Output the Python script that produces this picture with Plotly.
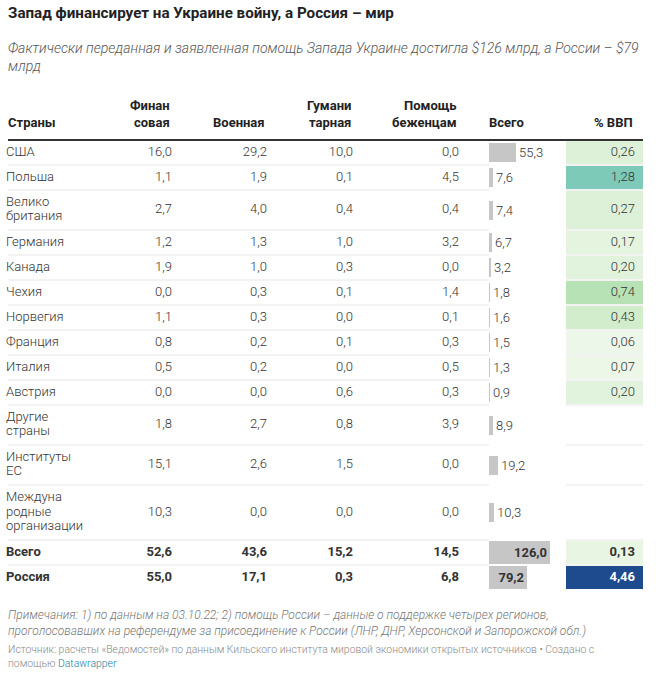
import plotly.graph_objects as go

# Данные таблицы
countries = ["США", "Польша", "Велико\nбритания", "Германия", "Канада", "Чехия",
             "Норвегия", "Франция", "Италия", "Австрия", "Другие\nстраны",
             "Институты\nЕС", "Междуна\nродные\nорганизации", "Всего", "Россия"]
fin = [16.0, 1.1, 2.7, 1.2, 1.9, 0.0, 1.1, 0.8, 0.5, 0.0, 1.8, 15.1, 10.3, 52.6, 55.0]
mil = [29.2, 1.9, 4.0, 1.3, 1.0, 0.3, 0.3, 0.2, 0.2, 0.0, 2.7, 2.6, 0.0, 43.6, 17.1]
hum = [10.0, 0.1, 0.4, 1.0, 0.3, 0.1, 0.0, 0.1, 0.0, 0.6, 0.8, 1.5, 0.0, 15.2, 0.3]
refugees = [0.0, 4.5, 0.4, 3.2, 0.0, 1.4, 0.1, 0.3, 0.5, 0.3, 3.9, 0.0, 0.0, 14.5, 6.8]
total = [55.3, 7.6, 7.4, 6.7, 3.2, 1.8, 1.6, 1.5, 1.3, 0.9, 8.9, 19.2, 10.3, 126.0, 79.2]
gdp = [0.26, 1.28, 0.27, 0.17, 0.20, 0.74, 0.43, 0.06, 0.07, 0.20, None, None, None, 0.13, 4.46]
bold_rows = ["Всего", "Россия"]

headers = ["Страны", "Финан\nсовая", "Военная", "Гумани\nтарная", "Помощь\nбеженцам", "Всего", "% ВВП"]

title = "Запад финансирует на Украине войну, а Россия – мир"
subtitle = "Фактически переданная и заявленная помощь Запада Украине достигла $126 млрд, а России – $79<br>млрд"
notes = ("Примечания: 1) по данным на 03.10.22; 2) помощь России – данные о поддержке четырех регионов,<br>"
         "проголосовавших на референдуме за присоединение к России (ЛНР, ДНР, Херсонской и Запорожской обл.)")
source = ("Источник: расчеты «Ведомостей» по данным Кильского института мировой экономики открытых источников • Создано с<br>"
          "помощью <span style='color:#1d81a2'>Datawrapper</span>")

FONT = "Roboto"
TXT = "#333333"
W, H = 656, 680

# геометрия таблицы (в пикселях)
head_bottom = 140
row_line = 15      # прирост высоты строки на одну строку текста
row_pad = 10
text_line = 14.3   # межстрочный интервал внутри ячейки
col_right = {"fin": 172, "mil": 267, "hum": 353, "ref": 459}
bar_left, cell_left, cell_right, gdp_right = 489, 566, 643, 635


def fmt(v, d=1):
    return f"{v:.{d}f}".replace(".", ",")


# границы строк
edges = [head_bottom]
for c in countries:
    n = len(c.split("\n"))
    edges.append(edges[-1] + row_pad + row_line * n)
centers = [(a + b) / 2 for a, b in zip(edges[:-1], edges[1:])]
is_bold = [c in bold_rows for c in countries]


def wrap(t, b):
    return f"<b>{t}</b>" if b else t


body_font = dict(family=FONT, size=13, color=TXT, weight=300)

fig = go.Figure()

# ячейки % ВВП
gdp_scale = [[0.0, "#f2f9ef"], [0.013, "#edf7e9"], [0.045, "#e1f3dc"],
             [0.096, "#d2edcc"], [0.166, "#b7e2b6"], [0.287, "#7dcab9"],
             [1.0, "#1e4a8e"]]
fig.add_trace(go.Heatmap(
    x=[cell_left, cell_right], y=edges, z=[[g] for g in gdp],
    colorscale=gdp_scale, zmin=0, zmax=4.46, showscale=False,
    ygap=2, hoverinfo="skip"
))

# названия стран (каждая строка текста отдельно)
nx, ny, nt = [], [], []
for c, yc, b in zip(countries, centers, is_bold):
    parts = c.split("\n")
    for i, p in enumerate(parts):
        nx.append(6)
        ny.append(yc + text_line * (i - (len(parts) - 1) / 2))
        nt.append(wrap(p, b))
fig.add_trace(go.Scatter(
    x=nx, y=ny, text=nt, mode="text", textposition="middle right",
    textfont=body_font, hoverinfo="skip"
))

# числовые колонки
for key, vals in [("fin", fin), ("mil", mil), ("hum", hum), ("ref", refugees)]:
    fig.add_trace(go.Scatter(
        x=[col_right[key]] * len(vals), y=centers,
        text=[wrap(fmt(v), b) for v, b in zip(vals, is_bold)],
        mode="text", textposition="middle left",
        textfont=body_font, hoverinfo="skip"
    ))

# % ВВП текст
gx, gy, gt, gc = [], [], [], []
for g, yc, b in zip(gdp, centers, is_bold):
    if g is None:
        continue
    gx.append(gdp_right)
    gy.append(yc)
    gt.append(wrap(fmt(g, 2), b))
    gc.append("white" if g > 2 else TXT)
fig.add_trace(go.Scatter(
    x=gx, y=gy, text=gt, mode="text", textposition="middle left",
    textfont=dict(family=FONT, size=13, color=gc, weight=300), hoverinfo="skip"
))

# столбики "Всего"
px_per_unit = 0.482
bar_range = (cell_left - bar_left) / px_per_unit
fig.add_trace(go.Bar(
    x=total, y=centers, orientation="h", xaxis="x2", yaxis="y",
    width=[23 if b else 19 for b in is_bold],
    marker=dict(color="#c6c6c6", line_width=0),
    text=[wrap(fmt(v), b) for v, b in zip(total, is_bold)],
    textposition=["inside" if v * px_per_unit > 35 else "outside" for v in total],
    insidetextanchor="end", constraintext="none", cliponaxis=False,
    textfont=body_font, insidetextfont=body_font, outsidetextfont=body_font,
    hoverinfo="skip"
))

# линии между строками
shapes = [dict(type="line", xref="x", yref="y", x0=8, x1=cell_right,
               y0=head_bottom, y1=head_bottom, line=dict(color="#333333", width=2))]
for e in edges[1:-1]:
    shapes.append(dict(type="line", xref="x", yref="y", x0=8, x1=cell_right,
                       y0=e, y1=e, line=dict(color="#e6e6e6", width=1), layer="below"))

# заголовки колонок
head_x = [6, col_right["fin"], col_right["mil"], col_right["hum"], col_right["ref"], bar_left - 2, gdp_right]
head_anchor = ["left", "right", "right", "right", "right", "left", "right"]
annotations = []
for h, hx, ha in zip(headers, head_x, head_anchor):
    parts = h.split("\n")
    for i, p in enumerate(parts):
        annotations.append(dict(
            x=hx, y=122 - 17 * (len(parts) - 1 - i), xref="x", yref="y",
            text=f"<b>{p}</b>", showarrow=False, xanchor=ha, yanchor="middle",
            font=dict(family=FONT, size=13, color="#222222")
        ))

annotations += [
    dict(x=6, y=13, text=f"<b>{title}</b>", xanchor="left",
         font=dict(family=FONT, size=15.2, color="#222222")),
    dict(x=6, y=57, text=f"<i>{subtitle}</i>", xanchor="left", align="left",
         font=dict(family=FONT, size=14.05, color="#555555", weight=300)),
    dict(x=6, y=623, text=f"<i>{notes}</i>", xanchor="left", align="left",
         font=dict(family=FONT, size=12, color="#777777", weight=300)),
    dict(x=6, y=656, text=source, xanchor="left", align="left",
         font=dict(family=FONT, size=10.4, color="#888888", weight=300)),
]
for a in annotations[-4:]:
    a.update(xref="x", yref="y", showarrow=False, yanchor="middle")

fig.update_layout(
    width=W, height=H, margin=dict(l=0, r=0, t=0, b=0),
    paper_bgcolor="white", plot_bgcolor="white", showlegend=False,
    xaxis=dict(range=[0, W], domain=[0, 1], visible=False, fixedrange=True),
    xaxis2=dict(range=[0, bar_range], domain=[bar_left / W, cell_left / W],
                anchor="y", visible=False, fixedrange=True),
    yaxis=dict(range=[H, 0], domain=[0, 1], visible=False, fixedrange=True),
    shapes=shapes, annotations=annotations, bargap=0,
)

# убираем стандартный отступ body, чтобы таблица стояла как в оригинале
fig.write_html("out.html", config={"displayModeBar": False},
               post_script="document.body.style.margin='0';")
